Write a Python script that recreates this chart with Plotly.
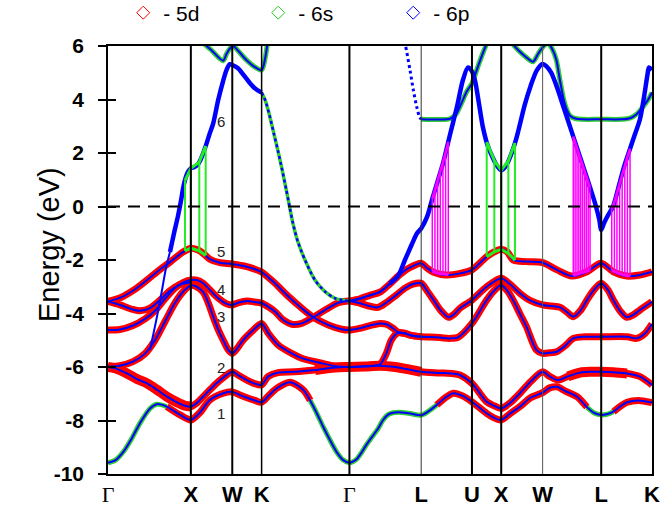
import numpy as np
import plotly.graph_objects as go

# ---------------- data ----------------
kpath_labels = ["Γ", "X", "W", "K", "Γ", "L", "U", "X", "W", "L", "K"]
kpath_pos = [0.0, 1.0, 1.5, 1.854, 2.914, 3.780, 4.393, 4.746, 5.246, 5.953, 6.566]
y_ticks = [-10, -8, -6, -4, -2, 0, 2, 4, 6]

band1_k = [0, 0.09, 0.185, 0.29, 0.386, 0.507, 0.588, 0.709, 0.869, 1.0,
           1.11, 1.231, 1.392, 1.5, 1.593, 1.678, 1.774, 1.854,
           1.93, 2.036, 2.197, 2.358, 2.44, 2.52, 2.60, 2.679, 2.76, 2.84, 2.914,
           2.95, 3.0, 3.06, 3.12, 3.19, 3.26, 3.32, 3.38, 3.44, 3.55, 3.65, 3.78,
           3.87, 3.967, 4.07, 4.168, 4.28, 4.393, 4.57, 4.66, 4.746,
           4.85, 4.973, 5.1, 5.246, 5.33, 5.42, 5.52, 5.661, 5.78, 5.87, 5.953,
           6.03, 6.1, 6.18, 6.265, 6.4, 6.566]
band1_E = [-9.58, -9.48, -9.17, -8.65, -8.1, -7.55, -7.39, -7.48, -7.79, -7.98,
           -7.7, -7.23, -6.98, -6.93, -7.05, -7.15, -7.25, -7.32,
           -7.1, -6.8, -6.57, -6.86, -7.25, -7.73, -8.25, -8.73, -9.18, -9.48, -9.58,
           -9.55, -9.45, -9.2, -8.9, -8.6, -8.3, -7.98, -7.78, -7.71, -7.7, -7.74, -7.8,
           -7.65, -7.42, -7.15, -6.98, -7.08, -7.3, -7.73, -7.9, -7.98,
           -7.75, -7.48, -7.15, -6.96, -6.78, -6.74, -6.9, -7.11, -7.5, -7.72, -7.79,
           -7.76, -7.67, -7.48, -7.32, -7.25, -7.33]
band1_d_ranges = [(0.709, 2.44), (3.967, 5.78), (6.1, 6.566)]
band1_s_ranges = [(0.0, 0.709), (2.44, 3.967), (5.78, 6.1)]

band2_k = [0, 0.084, 0.229, 0.35, 0.471, 0.591, 0.712, 0.833, 0.93, 1.0,
           1.07, 1.149, 1.23, 1.31, 1.41, 1.5, 1.57, 1.675, 1.77, 1.854,
           1.931, 2.052, 2.25, 2.5, 2.74, 2.914,
           3.1, 3.283, 3.464, 3.645, 3.78,
           4.0, 4.168, 4.248, 4.393, 4.57, 4.66, 4.746,
           4.85, 4.973, 5.1, 5.246, 5.33, 5.43, 5.55, 5.697, 5.82, 5.953,
           6.1, 6.265, 6.421, 6.566]
band2_E = [-6.0, -6.05, -6.24, -6.45, -6.61, -6.85, -7.11, -7.32, -7.45, -7.48,
           -7.35, -7.11, -6.85, -6.61, -6.35, -6.18, -6.3, -6.49, -6.62, -6.67,
           -6.36, -6.21, -6.18, -6.11, -6.02, -6.0,
           -5.98, -5.95, -6.0, -6.1, -6.18,
           -6.22, -6.25, -6.3, -6.61, -7.3, -7.45, -7.55,
           -7.35, -6.98, -6.55, -6.18, -6.35, -6.49, -6.35, -6.21, -6.18, -6.18,
           -6.2, -6.24, -6.36, -6.67]
band2_thick_ranges = [(0.0, 1.0), (2.5, 3.78), (5.55, 6.265)]

band3_k = [0, 0.145, 0.302, 0.447, 0.567, 0.688, 0.809, 0.917, 1.0,
           1.07, 1.149, 1.21, 1.27, 1.33, 1.39, 1.45, 1.5,
           1.56, 1.633, 1.754, 1.854,
           1.935, 2.056, 2.217, 2.338, 2.579, 2.74, 2.914,
           3.04, 3.16, 3.283, 3.36, 3.42, 3.50, 3.58, 3.66, 3.78,
           3.886, 4.007, 4.127, 4.23, 4.393, 4.57, 4.66, 4.746,
           4.82, 4.89, 4.97, 5.05, 5.17, 5.246,
           5.33, 5.416, 5.52, 5.616, 5.75, 5.953,
           6.265, 6.38, 6.48, 6.566]
band3_E = [-5.99, -5.95, -5.8, -5.5, -5.0, -4.3, -3.6, -3.15, -2.95,
           -3.0, -3.2, -3.6, -4.12, -4.6, -4.99, -5.35, -5.49,
           -5.3, -4.99, -4.62, -4.37,
           -4.74, -5.18, -5.49, -5.67, -5.86, -5.97, -6.0,
           -5.98, -5.96, -5.9, -5.49, -4.99, -4.72, -4.74, -4.82, -4.87,
           -4.88, -4.9, -4.93, -4.88, -4.37, -3.5, -3.15, -2.93,
           -3.15, -3.5, -4.0, -4.49, -5.36, -5.49,
           -5.47, -5.43, -5.2, -4.93, -4.87, -4.87,
           -4.87, -4.93, -4.75, -4.39]

band4_k = [0, 0.145, 0.302, 0.447, 0.567, 0.688, 0.809, 0.905, 1.0,
           1.07, 1.149, 1.31, 1.42, 1.5, 1.569, 1.678, 1.77, 1.854,
           1.935, 2.016, 2.12, 2.217, 2.338, 2.478, 2.619, 2.78, 2.914,
           3.042, 3.162, 3.259, 3.355, 3.464, 3.584, 3.681, 3.78,
           3.85, 3.93, 4.02, 4.11, 4.18, 4.25, 4.393, 4.57, 4.746,
           4.85, 4.97, 5.1, 5.246, 5.35, 5.456, 5.54, 5.616, 5.70, 5.78, 5.87, 5.953,
           6.03, 6.1, 6.18, 6.26, 6.34, 6.42, 6.566]
band4_E = [-4.62, -4.6, -4.45, -4.2, -3.9, -3.45, -3.05, -2.85, -2.75,
           -2.75, -2.87, -3.37, -3.62, -3.68, -3.6, -3.53, -3.57, -3.61,
           -3.75, -3.93, -4.25, -4.40, -4.37, -4.14, -3.87, -3.6, -3.53,
           -3.62, -3.73, -3.77, -3.6, -3.35, -3.05, -2.9, -2.87,
           -3.15, -3.5, -3.9, -4.14, -4.02, -3.8, -3.5, -3.0, -2.68,
           -2.9, -3.24, -3.52, -3.68, -3.72, -3.77, -3.95, -4.12, -3.9, -3.5, -3.1, -2.87,
           -3.1, -3.5, -3.9, -4.14, -4.05, -3.87, -3.56]

band5_k = [0, 0.157, 0.314, 0.471, 0.616, 0.748, 0.881, 0.929, 1.0,
           1.08, 1.149, 1.23, 1.35, 1.5, 1.675, 1.854,
           1.935, 2.016, 2.18, 2.338, 2.478, 2.66, 2.82, 2.914,
           3.04, 3.16, 3.283, 3.36, 3.44, 3.50, 3.58, 3.66, 3.78]
band5_E = [-3.55, -3.40, -3.12, -2.75, -2.38, -2.08, -1.75, -1.66, -1.56,
           -1.62, -1.75, -1.97, -2.1, -2.15, -2.25, -2.45,
           -2.65, -2.87, -3.37, -3.8, -4.14, -4.43, -4.59, -4.62,
           -4.55, -4.45, -4.37, -4.4, -4.55, -4.7, -4.74, -4.82, -4.87]

band5b_k = [2.914, 3.04, 3.16, 3.283, 3.40, 3.52, 3.645, 3.78,
            3.85, 3.93, 4.08, 4.25, 4.393, 4.57, 4.66, 4.746,
            4.82, 4.89, 5.05, 5.246, 5.42, 5.60, 5.78, 5.953,
            6.1, 6.26, 6.42, 6.566]
band5b_E = [-3.53, -3.45, -3.32, -3.2, -2.9, -2.55, -2.28, -2.12,
            -2.3, -2.46, -2.56, -2.5, -2.37, -1.88, -1.7, -1.6,
            -1.7, -2.0, -2.06, -2.1, -2.37, -2.6, -2.44, -2.12,
            -2.44, -2.6, -2.56, -2.44]

bandx_k = [0, 0.145, 0.302, 0.386, 0.507, 0.628, 0.748, 0.869, 1.0]
bandx_E = [-3.55, -3.68, -3.85, -3.9, -3.8, -3.5, -3.15, -2.92, -2.83]

band6_k = [0.507, 0.591, 0.652, 0.7, 0.748, 0.80, 0.845, 0.88, 0.91, 0.94, 0.97, 1.0,
           1.04, 1.08, 1.11, 1.15, 1.19, 1.23, 1.27, 1.33, 1.39, 1.43, 1.47, 1.5,
           1.569, 1.64, 1.714, 1.78, 1.854,
           1.90, 1.95, 2.0, 2.05, 2.10, 2.15, 2.185, 2.23, 2.29, 2.378, 2.498, 2.619, 2.74, 2.914,
           3.1, 3.283, 3.40, 3.50, 3.584, 3.669, 3.73, 3.78,
           3.852, 3.922, 4.043, 4.127, 4.212, 4.284, 4.345, 4.393, 4.43, 4.48, 4.526, 4.58, 4.64, 4.70, 4.746,
           4.80, 4.86, 4.92, 4.955, 5.03, 5.10, 5.177, 5.246,
           5.29, 5.35, 5.42, 5.50, 5.58, 5.66, 5.74, 5.82, 5.89, 5.93, 5.953,
           5.99, 6.04, 6.096, 6.16, 6.23, 6.30, 6.36, 6.42, 6.47, 6.51, 6.53, 6.566]
band6_E = [-5.36, -4.12, -3.12, -2.3, -1.7, -0.95, -0.35, 0.2, 0.74, 1.1, 1.32, 1.43,
           1.47, 1.55, 1.7, 2.0, 2.36, 2.75, 3.11, 3.98, 4.7, 5.1, 5.32, 5.29,
           5.17, 4.9, 4.61, 4.4, 4.26,
           3.95, 3.4, 2.75, 2.1, 1.4, 0.65, 0.1, -0.6, -1.3, -2.0, -2.75, -3.18, -3.43, -3.53,
           -3.38, -3.18, -2.88, -2.6, -2.0, -1.4, -1.0, -0.82,
           -0.38, 0.37, 1.61, 2.67, 3.73, 4.73, 5.2, 5.05, 4.7, 3.8, 2.95, 2.3, 1.85, 1.5, 1.36,
           1.5, 1.9, 2.45, 2.86, 3.8, 4.5, 5.1, 5.33,
           5.25, 5.0, 4.45, 3.7, 2.95, 2.2, 1.45, 0.7, 0.0, -0.5, -0.88,
           -0.6, -0.3, 0.0, 0.7, 1.5, 2.15, 2.7, 3.25, 4.1, 4.9, 5.2, 5.1]
band6_thick_ranges = [(0.748, 1.854), (3.40, 6.566)]
band6_thin_ranges = [(0.507, 0.748), (2.914, 3.40)]
band6_dot_ranges = [(1.854, 2.914)]

band7a_k = [1.0, 1.09, 1.24, 1.39, 1.43, 1.473, 1.51, 1.57, 1.67, 1.77, 1.854, 1.90, 1.93, 1.97]
band7a_E = [6.8, 6.29, 5.87, 5.45, 5.7, 5.91, 6.0, 5.82, 5.48, 5.22, 5.1, 5.6, 6.22, 6.9]
band7b_k = [4.746, 4.85, 4.95, 5.04, 5.13, 5.19, 5.246, 5.31, 5.36, 5.41, 5.456, 5.50, 5.54,
            5.58, 5.64, 5.72, 5.953, 6.2, 6.30, 6.38, 6.45, 6.52, 6.566]
band7b_E = [6.6, 6.2, 5.85, 5.6, 5.41, 5.7, 5.95, 6.1, 5.9, 5.5, 4.7, 4.0, 3.6,
            3.38, 3.29, 3.26, 3.26, 3.26, 3.3, 3.45, 3.7, 4.0, 4.26]
band7c_k = [3.78, 3.886, 4.007, 4.127, 4.2, 4.25, 4.33, 4.393, 4.45, 4.52, 4.59, 4.65]
band7c_E = [3.26, 3.25, 3.25, 3.28, 3.45, 3.75, 4.3, 4.6, 5.1, 5.7, 6.22, 6.6]
band7d_k = [3.53, 3.584, 3.645, 3.685, 3.726, 3.76, 3.78]
band7d_E = [6.6, 6.1, 5.1, 4.36, 3.73, 3.35, 3.26]

trans_green_left_k = [0.929, 1.0, 1.102, 1.179]
trans_green_right_k = [4.571, 4.663, 4.746, 4.832, 4.912]
trans_mag1_k = [3.914, 3.946, 3.979, 4.011, 4.043, 4.075, 4.107]
trans_mag2_k = [5.616, 5.638, 5.661, 5.683, 5.706, 5.728, 5.751, 5.773, 5.796, 5.818]
trans_mag3_k = [6.080, 6.112, 6.143, 6.175, 6.206, 6.238, 6.269, 6.301]

band_label_text = ["1", "2", "3", "4", "5", "6"]
band_label_E = [-7.75, -6.0, -4.1, -3.1, -1.7, 3.17]
band_label_k = 1.364

legend_names = ["- 5d", "- 6s", "- 6p"]

# ---------------- drawing ----------------
RED = "#ff0000"
GREEN = "#33cc33"
BLUE = "#0000ff"
MAG = "#ff00ff"
TGREEN = "#22ee22"

fig = go.Figure()


def add_line(k, E, color, width, dash=None, smooth=0.8):
    fig.add_trace(go.Scatter(x=k, y=E, mode="lines",
                             line=dict(color=color, width=width, dash=dash,
                                       shape="spline", smoothing=smooth),
                             showlegend=False, hoverinfo="skip"))


def subset(k, E, ranges):
    k = np.asarray(k, float)
    E = np.asarray(E, float)
    ok, oE = [], []
    for lo, hi in ranges:
        m = (k >= lo - 1e-9) & (k <= hi + 1e-9)
        ok += list(k[m]) + [None]
        oE += list(E[m]) + [None]
    return ok, oE


# red (5d) underlays
for bk, bE in [(band3_k, band3_E), (band4_k, band4_E), (band5_k, band5_E),
               (band5b_k, band5b_E), (bandx_k, bandx_E), (band2_k, band2_E)]:
    add_line(bk, bE, RED, 7)
add_line(*subset(band2_k, band2_E, band2_thick_ranges), RED, 10)
add_line(*subset(band1_k, band1_E, band1_d_ranges), RED, 7)
add_line(*subset(band1_k, band1_E, band1_s_ranges), GREEN, 5)

# 6s / 6p upper bands
for bk, bE in [(band7a_k, band7a_E), (band7b_k, band7b_E), (band7c_k, band7c_E)]:
    add_line(bk, bE, GREEN, 5)
add_line(*subset(band6_k, band6_E, band6_dot_ranges), GREEN, 3.5)

# blue centre lines
for bk, bE in [(band1_k, band1_E), (band2_k, band2_E), (band3_k, band3_E),
               (band4_k, band4_E), (band5_k, band5_E), (band5b_k, band5b_E),
               (bandx_k, bandx_E), (band7a_k, band7a_E), (band7b_k, band7b_E),
               (band7c_k, band7c_E)]:
    add_line(bk, bE, BLUE, 2)
add_line(band7d_k, band7d_E, BLUE, 3, dash="dot")
add_line(*subset(band6_k, band6_E, band6_thin_ranges), BLUE, 2)
add_line(*subset(band6_k, band6_E, band6_dot_ranges), BLUE, 2.5, dash="dot")
add_line(*subset(band6_k, band6_E, band6_thick_ranges), BLUE, 4.5)


# transitions
def add_transitions(kk, lowk, lowE, color, width):
    kk = np.asarray(kk, float)
    bot = np.interp(kk, lowk, lowE)
    top = np.interp(kk, band6_k, band6_E)
    xs, ys = [], []
    for a, b, c in zip(kk, bot, top):
        xs += [a, a, None]
        ys += [b, c, None]
    fig.add_trace(go.Scatter(x=xs, y=ys, mode="lines", line=dict(color=color, width=width),
                             showlegend=False, hoverinfo="skip"))
    for arr in (bot, top):
        fig.add_trace(go.Scatter(x=list(kk), y=list(arr), mode="lines",
                                 line=dict(color=color, width=width + 1),
                                 showlegend=False, hoverinfo="skip"))


add_transitions(trans_green_left_k, band5_k, band5_E, TGREEN, 2)
add_transitions(trans_green_right_k, band5b_k, band5b_E, TGREEN, 2)
add_transitions(trans_mag1_k, band5b_k, band5b_E, MAG, 1.5)
add_transitions(trans_mag2_k, band5b_k, band5b_E, MAG, 1.5)
add_transitions(trans_mag3_k, band5b_k, band5b_E, MAG, 1.5)

# legend entries
for name, col in zip(legend_names, [RED, "#22cc22", BLUE]):
    fig.add_trace(go.Scatter(x=[None], y=[None], mode="markers", name=name,
                             marker=dict(symbol="diamond-open", size=10, color=col,
                                         line=dict(width=1, color=col))))

# invisible trace for inner y ticks
fig.add_trace(go.Scatter(x=[None], y=[None], yaxis="y2", showlegend=False))

# vertical lines at high-symmetry points
vl_width = [0, 2, 2, 1.5, 2, 1, 2, 2, 1, 2, 0]
vl_color = ["black", "black", "black", "black", "black", "#333333", "black", "black", "#555555", "black", "black"]
for kp, w, c in zip(kpath_pos, vl_width, vl_color):
    if w > 0:
        fig.add_shape(type="line", x0=kp, x1=kp, y0=0, y1=1, xref="x", yref="paper",
                      line=dict(color=c, width=w), layer="above")
fig.add_shape(type="line", x0=0, x1=1, y0=0, y1=0, xref="paper", yref="y",
              line=dict(color="black", width=2, dash="12px,8px"), layer="above")

for t, e in zip(band_label_text, band_label_E):
    fig.add_annotation(x=band_label_k, y=e, text=t, showarrow=False,
                       font=dict(size=15, color="#222222", family="Liberation Sans"))

fig.add_annotation(x=-0.1415, y=0.535, xref="paper", yref="paper", text="Energy (eV)",
                   textangle=-90, showarrow=False,
                   font=dict(size=29, color="black", family="Liberation Sans"))

ticktext = ["<span style='font-family:Liberation Serif;font-weight:normal'>Γ</span>" if s == "Γ" else s
            for s in kpath_labels]

fig.update_layout(
    width=663, height=515,
    margin=dict(l=108, r=11, t=46, b=41, autoexpand=False),
    plot_bgcolor="white", paper_bgcolor="white",
    font=dict(family="Liberation Sans", size=19, color="black"),
    legend=dict(orientation="h", x=0.028, y=1.077, xanchor="left", yanchor="middle",
                entrywidth=90, font=dict(size=21), bgcolor="rgba(0,0,0,0)"),
    xaxis=dict(range=[0, kpath_pos[-1]], tickvals=kpath_pos, ticktext=ticktext,
               showgrid=False, zeroline=False, showline=True, linecolor="black",
               linewidth=1.5, mirror=True, ticks="",
               tickfont=dict(size=22, weight="bold")),
    yaxis=dict(range=[-10, 6], tickvals=y_ticks, ticktext=[str(v) for v in y_ticks],
               ticks="outside", ticklen=8, tickwidth=1.5, tickcolor="black",
               showgrid=False, zeroline=False, showline=True, linecolor="black",
               linewidth=1.5, mirror=True, ticklabelstandoff=10,
               tickfont=dict(size=21, weight="bold")),
    yaxis2=dict(overlaying="y", matches="y", side="left", tickvals=y_ticks,
                ticks="inside", ticklen=8, tickwidth=1.5, tickcolor="black",
                showticklabels=False, showgrid=False, zeroline=False, showline=False),
)

fig.write_html("out.html", config={"displayModeBar": False},
               post_script="document.body.style.margin='0';document.body.style.overflow='hidden';")
